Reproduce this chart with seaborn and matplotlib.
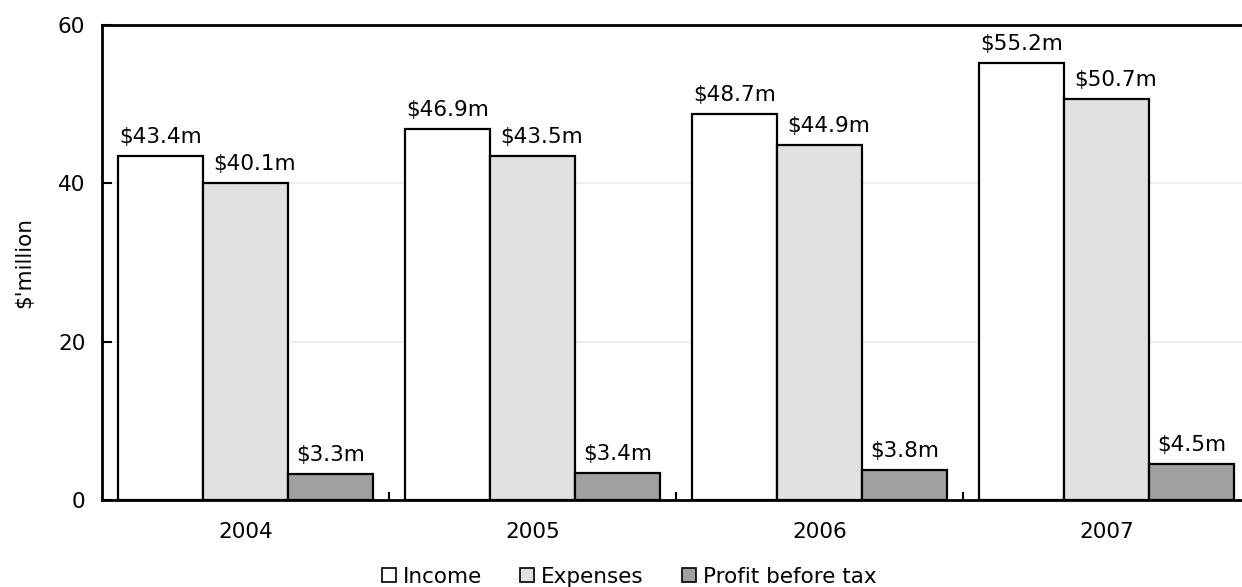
import matplotlib
matplotlib.use("Agg")
import matplotlib.pyplot as plt
from matplotlib.lines import Line2D
from matplotlib.ticker import FixedLocator
import seaborn as sns
import pandas as pd

years = ["2004", "2005", "2006", "2007"]
series = ["Income", "Expenses", "Profit before tax"]
income = [43.4, 46.9, 48.7, 55.2]
expenses = [40.1, 43.5, 44.9, 50.7]
profit = [3.3, 3.4, 3.8, 4.5]
colors = ["#FFFFFF", "#E1E1E1", "#A0A0A0"]

rows = []
for name, vals in zip(series, [income, expenses, profit]):
    for y, v in zip(years, vals):
        rows.append({"year": y, "series": name, "value": v})
df = pd.DataFrame(rows)

sns.set_theme(style="white")
plt.rcParams["font.family"] = ["DejaVu Sans"]
plt.rcParams["text.color"] = "black"
plt.rcParams["axes.labelcolor"] = "black"
plt.rcParams["xtick.labelcolor"] = "black"
plt.rcParams["ytick.labelcolor"] = "black"

FS = 15.5

fig = plt.figure(figsize=(12.42, 5.87), dpi=100)
ax = fig.add_axes([102 / 1242, 1 - 500 / 587, 1148 / 1242, 475 / 587])

sns.barplot(data=df, x="year", y="value", hue="series", hue_order=series,
            order=years, palette=colors, edgecolor="black", linewidth=1.6,
            width=0.888, gap=0, saturation=1, legend=False, ax=ax, zorder=3)

# value labels above each bar; the middle series' labels sit slightly right
# so they clear the taller neighbouring bar
shifts = [0, 6.5, 0]
for cont, dx in zip(ax.containers, shifts):
    for bar in cont:
        h = bar.get_height()
        ax.annotate(f"${h:.1f}m", (bar.get_x() + bar.get_width() / 2, h),
                    xytext=(dx, 6.5), textcoords="offset points",
                    ha="center", va="bottom", fontsize=FS, color="black")

ax.set_xlim(-0.5, 3.5)
ax.set_ylim(0, 60)
ax.set_yticks([0, 20, 40, 60])
ax.yaxis.grid(True, color="#EBEBEB", linewidth=1.2, zorder=0)
ax.set_axisbelow(True)

ax.set_xlabel("")
ax.set_ylabel("$'million", fontsize=FS, labelpad=17)
ax.tick_params(axis="x", which="major", length=0, pad=16, labelsize=FS)
ax.xaxis.set_minor_locator(FixedLocator([0.5, 1.5, 2.5]))
ax.tick_params(axis="x", which="minor", direction="in", length=6, width=1.5,
               color="black", bottom=True)
ax.tick_params(axis="y", direction="in", length=7, width=1.5, color="black",
               left=True, pad=12, labelsize=FS)

for side in ["left", "bottom", "top"]:
    ax.spines[side].set_visible(True)
    ax.spines[side].set_color("black")
    ax.spines[side].set_linewidth(2)
ax.spines["right"].set_visible(False)

handles = [Line2D([], [], marker="s", linestyle="None", markersize=10,
                  markerfacecolor=c, markeredgecolor="black",
                  markeredgewidth=1.2) for c in colors]
fig.legend(handles, series, loc="lower center", bbox_to_anchor=(0.506, -0.033),
           ncol=3, frameon=False, fontsize=FS, handletextpad=0.25,
           columnspacing=1.7, handlelength=0.8)

fig.savefig("out.png", dpi=100)
